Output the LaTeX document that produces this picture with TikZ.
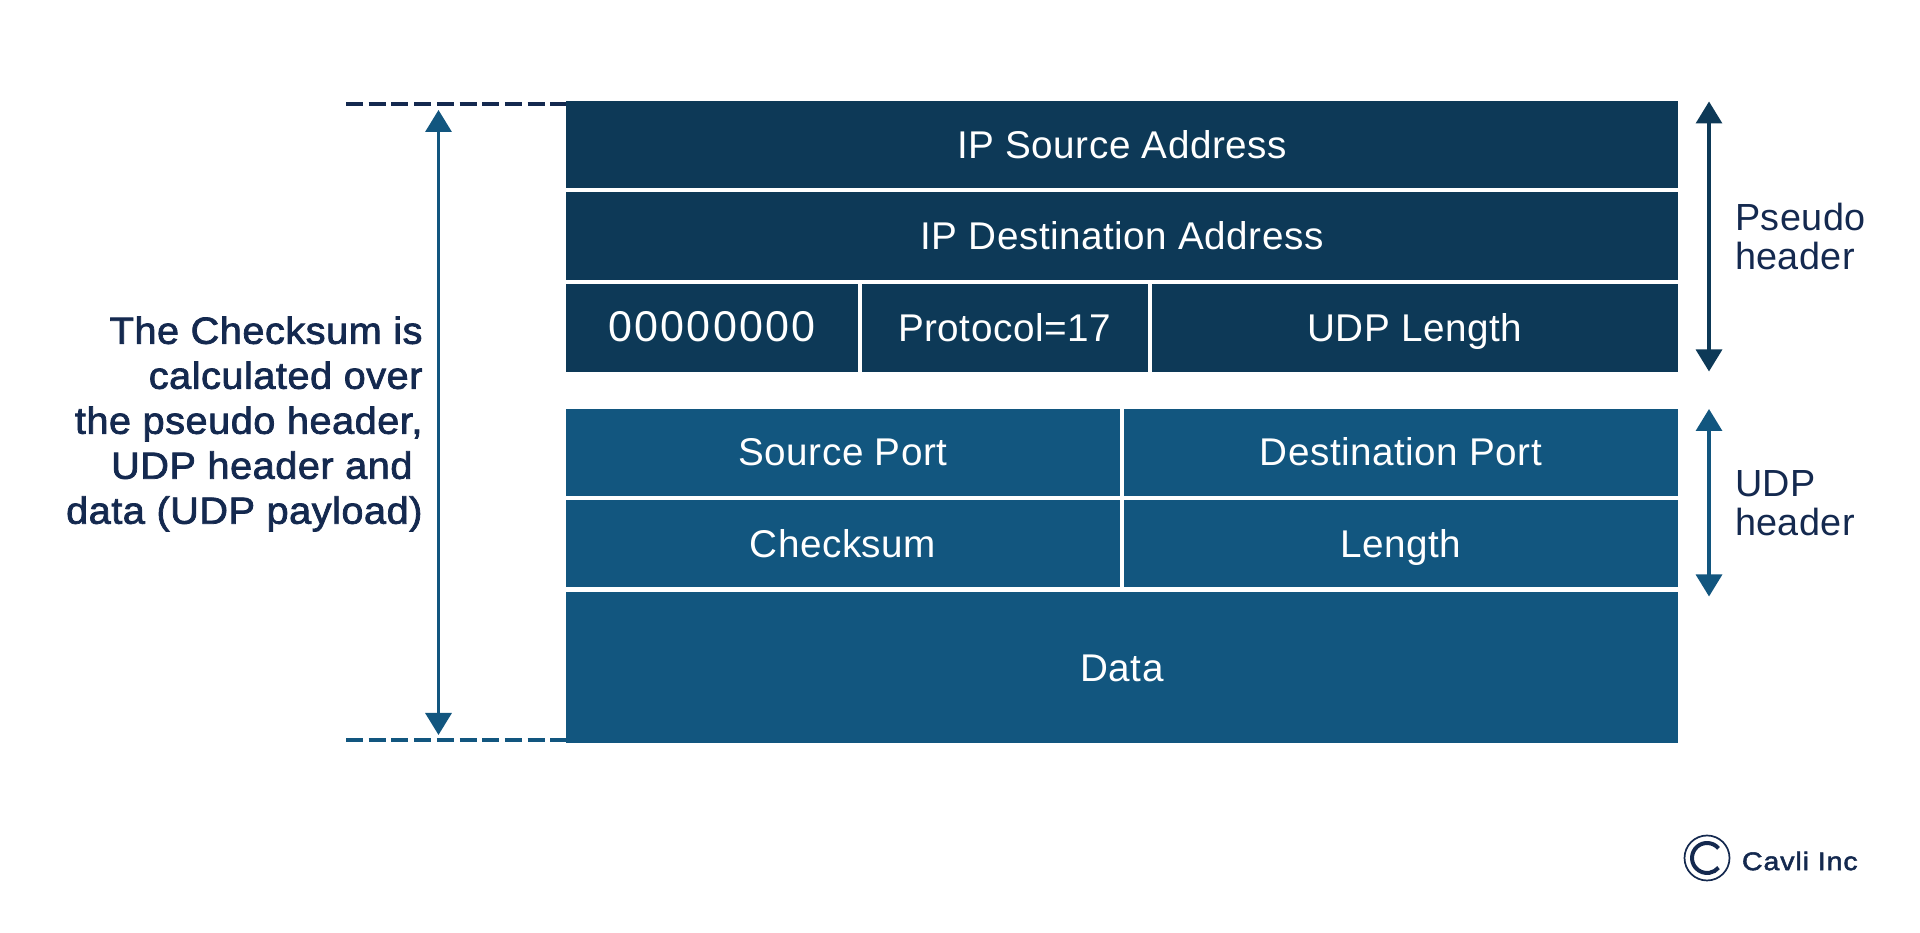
\documentclass[tikz,border=0pt]{standalone}
\usepackage{fontspec}
\setmainfont[LetterSpace=1.3]{Liberation Sans}
\newfontfamily\medfont[FakeBold=2,FakeStretch=1.05,LetterSpace=1.4]{Liberation Sans}
\newfontfamily\brandfont[FakeBold=2,FakeStretch=1.12,LetterSpace=3.5]{Liberation Sans}
\newfontfamily\zerofont[LetterSpace=5]{Liberation Sans}
\usetikzlibrary{arrows.meta}
\definecolor{pseudoblue}{HTML}{0D3957}
\definecolor{udpblue}{HTML}{12567F}
\definecolor{inkblue}{HTML}{14294F}
\begin{document}
\begin{tikzpicture}
	\tikzstyle{cell} = [inner sep=0,outer sep=0,text=white,text height=0.64cm,text depth=0.1cm,font=\fontsize{22}{26}\selectfont]
	\tikzstyle{pseudo} = [cell,fill=pseudoblue]
	\tikzstyle{udp} = [cell,fill=udpblue]
	\tikzstyle{span} = [line width=0.066cm,{Triangle[width=0.52cm,length=0.44cm]}-{Triangle[width=0.52cm,length=0.44cm]}]
	\tikzstyle{guide} = [line width=0.07cm,dash pattern=on 0.34cm off 0.114cm]
	\tikzstyle{sidelabel} = [inner sep=0,outer sep=0,anchor=west,align=left,text=inkblue,font=\fontsize{21.5}{22.2}\selectfont]
	\useasboundingbox (0,0) rectangle (38.4,18.66);
	% pseudo header
	\node [pseudo,minimum width=22.24cm,minimum height=1.73cm] (ipsrc) at (22.44,15.765) {IP Source Address};
	\node [pseudo,minimum width=22.24cm,minimum height=1.76cm] (ipdst) at (22.44,13.93) {IP Destination Address};
	\node [pseudo,minimum width=5.84cm,minimum height=1.744cm,font=\zerofont\fontsize{24.5}{26}\selectfont] (zeros) at (14.24,12.098) {00000000};
	\node [pseudo,minimum width=5.72cm,minimum height=1.744cm] (proto) at (20.09,12.098) {Protocol=17};
	\node [pseudo,minimum width=10.53cm,minimum height=1.744cm] (udplen) at (28.295,12.098) {UDP Length};
	% udp header and data
	\node [udp,minimum width=11.08cm,minimum height=1.738cm] (srcport) at (16.86,9.615) {Source Port};
	\node [udp,minimum width=11.08cm,minimum height=1.738cm] (dstport) at (28.02,9.615) {Destination Port};
	\node [udp,minimum width=11.08cm,minimum height=1.746cm] (chk) at (16.86,7.787) {Checksum};
	\node [udp,minimum width=11.08cm,minimum height=1.746cm] (len) at (28.02,7.787) {Length};
	\node [udp,minimum width=22.24cm,minimum height=3.026cm] (data) at (22.44,5.307) {Data};
	% left side
	\coordinate (topguide) at (6.92,16.58);
	\coordinate (botguide) at (6.92,3.86);
	\draw [guide,draw=inkblue] (topguide) -- (ipsrc.west |- topguide);
	\draw [guide,draw=udpblue] (botguide) -- (data.west |- botguide);
	\coordinate (chktop) at (8.77,16.46);
	\coordinate (chkbot) at (8.77,3.96);
	\draw [span,udpblue] (chktop) -- (chkbot);
	\node [sidelabel,anchor=east,align=right,font=\medfont\fontsize{21.5}{25.6}\selectfont] (chktext) at (8.45,10.18) {The Checksum is\\calculated over\\the pseudo header,\\UDP header and\rule{0.2cm}{0pt}\\data (UDP payload)};
	% right side
	\coordinate (ptop) at (34.18,16.63);
	\coordinate (pbot) at (34.18,11.23);
	\draw [span,pseudoblue] (ptop) -- (pbot);
	\node [sidelabel] (ptext) at (34.70,13.92) {Pseudo\\header};
	\coordinate (utop) at (34.18,10.48);
	\coordinate (ubot) at (34.18,6.73);
	\draw [span,udpblue] (utop) -- (ubot);
	\node [sidelabel] (utext) at (34.70,8.60) {UDP\\header};
	% logo
	\node [circle,draw=inkblue,line width=0.034cm,minimum size=0.9cm,inner sep=0] (logo) at (34.14,1.5) {};
	\draw [inkblue,line width=0.08cm] (logo.center) ++(40:0.3) arc (40:320:0.3);
	\node [inner sep=0,outer sep=0,anchor=west,text=inkblue,font=\brandfont\fontsize{14.5}{16}\selectfont] (brand) at (34.84,1.44) {Cavli Inc};
\end{tikzpicture}
\end{document}
